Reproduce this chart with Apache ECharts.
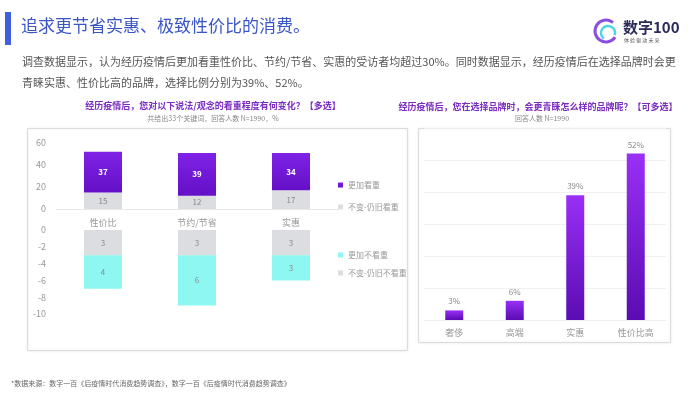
<!DOCTYPE html>
<html>
<head>
<meta charset="utf-8">
<script src="https://cdn.jsdelivr.net/npm/echarts@6/dist/echarts.min.js"></script>
<style>
  html, body { margin: 0; padding: 0; background: #fff; }
  #chart { width: 700px; height: 394px; }
</style>
</head>
<body>
<div id="chart"></div>
<script>
// left chart: change in importance
const leftCats = ['性价比', '节约/节省', '实惠'];
const moreValued = [37, 39, 34];
const stillValued = [15, 12, 17];
const stillNotValued = [3, 3, 3];
const lessValued = [4, 6, 3];
const upperTicks = [0, 60, 20];
const lowerTicks = [-10, 0, 2];

// right chart: preferred brand
const rightCats = ['奢侈', '高端', '实惠', '性价比高'];
const rightValues = [3, 6, 39, 52];

const FONT = '"Noto Sans CJK SC", "Noto Sans", sans-serif';
const purpleLeft = new echarts.graphic.LinearGradient(0, 0, 0, 1, [
  { offset: 0, color: '#7f22e6' }, { offset: 1, color: '#6410c6' }
]);
const purpleRight = new echarts.graphic.LinearGradient(0, 0, 0, 1, [
  { offset: 0, color: '#9a2ff6' }, { offset: 1, color: '#5a0cb2' }
]);

const chart = echarts.init(document.getElementById('chart'));

const axisLabel = { color: '#999', fontSize: 9, fontFamily: FONT };

chart.setOption({
  backgroundColor: '#fff',
  animation: false,
  textStyle: { fontFamily: FONT },
  graphic: [
    { type: 'rect', shape: { x: 5, y: 12, width: 6, height: 33 }, style: { fill: '#3d5fe0' } },
    { type: 'text', left: 21, top: 17, style: { text: '追求更节省实惠、极致性价比的消费。', fill: '#3a55c6', fontSize: 17, fontFamily: FONT } },
    // logo
    { type: 'arc', shape: { cx: 606, cy: 31, r: 11, startAngle: 0.6, endAngle: 5.4 }, style: { stroke: '#8a4fe0', lineWidth: 3, fill: null } },
    { type: 'arc', shape: { cx: 608, cy: 33, r: 7, startAngle: 2.2, endAngle: 6.6 }, style: { stroke: '#4fd3e8', lineWidth: 2.5, fill: null } },
    { type: 'text', left: 623, top: 20, style: { text: '数字100', fill: '#2c2a58', fontSize: 15, fontWeight: 'bold', fontFamily: FONT } },
    { type: 'text', left: 624, top: 38, style: { text: '体 验 驱 动 未 来', fill: '#555', fontSize: 5, fontFamily: FONT } },
    // body text
    { type: 'text', left: 22, top: 56, style: { text: '调查数据显示，认为经历疫情后更加看重性价比、节约/节省、实惠的受访者均超过30%。同时数据显示，经历疫情后在选择品牌时会更', fill: '#555', fontSize: 11, fontFamily: FONT } },
    { type: 'text', left: 22, top: 77, style: { text: '青睐实惠、性价比高的品牌，选择比例分别为39%、52%。', fill: '#555', fontSize: 11, fontFamily: FONT } },
    // chart titles
    { type: 'text', x: 213, y: 106, style: { text: '经历疫情后，您对以下说法/观念的看重程度有何变化？【多选】', fill: '#7a2cc2', fontSize: 9, fontWeight: 'bold', align: 'center', verticalAlign: 'middle', fontFamily: FONT } },
    { type: 'text', x: 213, y: 118, style: { text: '共给出33个关键词，回答人数 N=1990，%', fill: '#888', fontSize: 7, align: 'center', verticalAlign: 'middle', fontFamily: FONT } },
    { type: 'text', x: 538, y: 107, style: { text: '经历疫情后，您在选择品牌时，会更青睐怎么样的品牌呢？【可多选】', fill: '#7a2cc2', fontSize: 9, fontWeight: 'bold', align: 'center', verticalAlign: 'middle', fontFamily: FONT } },
    { type: 'text', x: 542, y: 118, style: { text: '回答人数 N=1990', fill: '#888', fontSize: 7, align: 'center', verticalAlign: 'middle', fontFamily: FONT } },
    // boxes
    { type: 'rect', z: -1, shape: { x: 27.5, y: 128.5, width: 380, height: 222 }, style: { fill: '#fff', stroke: '#dcdcdc', lineWidth: 1, shadowBlur: 3, shadowColor: 'rgba(0,0,0,0.08)' } },
    { type: 'rect', z: -1, shape: { x: 418.5, y: 128.5, width: 252, height: 214 }, style: { fill: '#fff', stroke: '#dcdcdc', lineWidth: 1, shadowBlur: 3, shadowColor: 'rgba(0,0,0,0.08)' } },
    // footer
    { type: 'text', left: 11, top: 380, style: { text: '*数据来源：数字一百《后疫情时代消费趋势调查》，数字一百《后疫情时代消费趋势调查》', fill: '#666', fontSize: 7, fontFamily: FONT } }
  ],
  legend: [
    {
      data: ['更加看重', '不变-仍旧看重'],
      orient: 'vertical', left: 333, top: 176, itemGap: 14,
      itemWidth: 5, itemHeight: 5, icon: 'rect',
      textStyle: { color: '#999', fontSize: 8, fontFamily: FONT }
    },
    {
      data: ['更加不看重', '不变-仍旧不看重'],
      orient: 'vertical', left: 333, top: 246, itemGap: 10,
      itemWidth: 5, itemHeight: 5, icon: 'rect',
      textStyle: { color: '#999', fontSize: 8, fontFamily: FONT }
    }
  ],
  grid: [
    { left: 56, width: 282, top: 143, height: 66 },
    { left: 56, width: 282, top: 230, height: 84 },
    { left: 424, width: 242, top: 128, height: 192 }
  ],
  xAxis: [
    { gridIndex: 0, type: 'category', data: leftCats, axisTick: { show: false },
      axisLine: { lineStyle: { color: '#e8e8e8' } }, axisLabel: Object.assign({ margin: 9 }, axisLabel) },
    { gridIndex: 1, type: 'category', data: leftCats, show: false },
    { gridIndex: 2, type: 'category', data: rightCats, axisTick: { show: false },
      axisLine: { lineStyle: { color: '#eee' } }, axisLabel: Object.assign({ margin: 8 }, axisLabel) }
  ],
  yAxis: [
    { gridIndex: 0, type: 'value', min: upperTicks[0], max: upperTicks[1], interval: upperTicks[2],
      splitLine: { show: false }, axisLabel: Object.assign({ margin: 10 }, axisLabel) },
    { gridIndex: 1, type: 'value', min: lowerTicks[0], max: lowerTicks[1], interval: lowerTicks[2],
      splitLine: { show: false }, axisLabel: Object.assign({ margin: 10 }, axisLabel) },
    { gridIndex: 2, type: 'value', min: 0, max: 60, interval: 10,
      axisLabel: { show: false }, splitLine: { lineStyle: { color: '#f0f0f0' } } }
  ],
  series: [
    { name: '不变-仍旧看重', type: 'bar', stack: 'up', xAxisIndex: 0, yAxisIndex: 0, barWidth: 38,
      data: stillValued, itemStyle: { color: '#dcdde1' },
      label: { show: true, color: '#888', fontSize: 8 } },
    { name: '更加看重', type: 'bar', stack: 'up', xAxisIndex: 0, yAxisIndex: 0, barWidth: 38,
      data: moreValued, itemStyle: { color: purpleLeft },
      label: { show: true, color: '#fff', fontSize: 8, fontWeight: 'bold' } },
    { name: '不变-仍旧不看重', type: 'bar', stack: 'down', xAxisIndex: 1, yAxisIndex: 1, barWidth: 38,
      data: stillNotValued.map(v => -v), itemStyle: { color: '#dcdde1' },
      label: { show: true, color: '#888', fontSize: 8, formatter: p => Math.abs(p.value) } },
    { name: '更加不看重', type: 'bar', stack: 'down', xAxisIndex: 1, yAxisIndex: 1, barWidth: 38,
      data: lessValued.map(v => -v), itemStyle: { color: '#8ff7f1' },
      label: { show: true, color: '#888', fontSize: 8, formatter: p => Math.abs(p.value) } },
    { name: '品牌', type: 'bar', xAxisIndex: 2, yAxisIndex: 2, barWidth: 18,
      data: rightValues, itemStyle: { color: purpleRight },
      label: { show: true, position: 'top', color: '#888', fontSize: 8, formatter: '{c}%' } }
  ]
});
</script>
</body>
</html>
